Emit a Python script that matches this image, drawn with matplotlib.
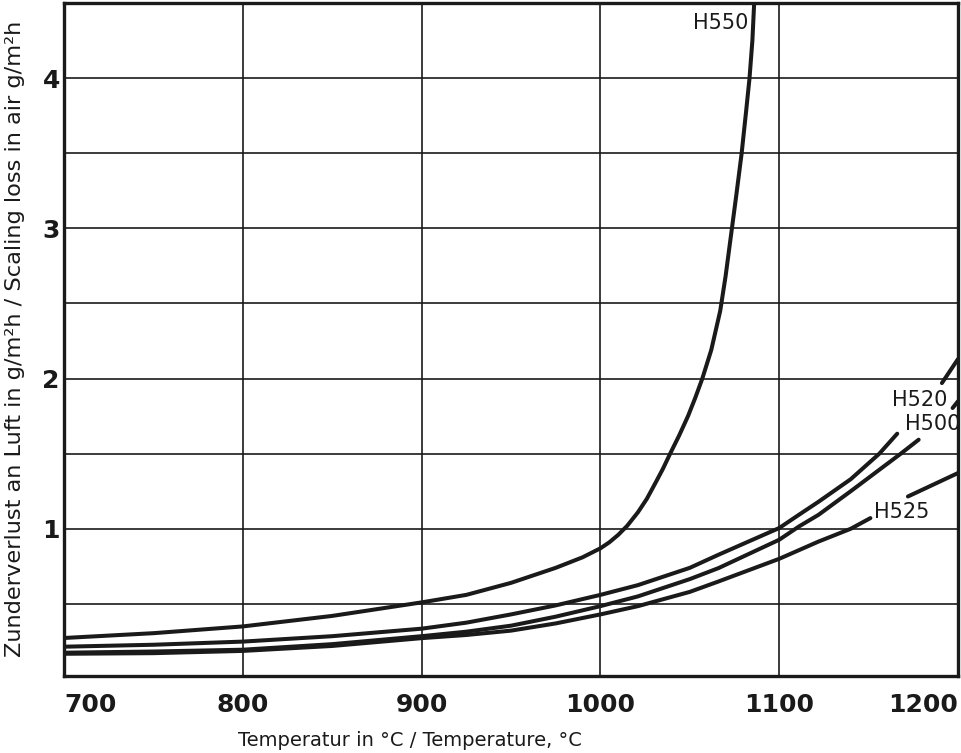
import numpy as np
import matplotlib
matplotlib.use("Agg")
import matplotlib.pyplot as plt

plt.rcParams["font.family"] = ["Liberation Sans Narrow", "DejaVu Sans"]

# scaling loss readings, temperature in degC -> g/m2h
h550_t = [700, 750, 800, 850, 900, 925, 950, 975, 990, 1000, 1005, 1010, 1015, 1021, 1026, 1031, 1035, 1039,
          1044, 1049, 1053, 1057, 1062, 1067, 1070, 1073, 1076, 1079, 1081.5, 1083.4, 1085, 1086]
h550_v = [0.273, 0.305, 0.35, 0.42, 0.51, 0.56, 0.64, 0.74, 0.81, 0.87, 0.91, 0.96, 1.02, 1.11, 1.2, 1.31, 1.4, 1.5,
          1.62, 1.75, 1.87, 2.0, 2.19, 2.45, 2.68, 2.95, 3.22, 3.5, 3.78, 4.0, 4.25, 4.5]

h520_t = [700, 750, 800, 850, 900, 925, 950, 975, 1000, 1021, 1050, 1066, 1100, 1111, 1122, 1140, 1156, 1166, 1180, 1191, 1200]
h520_v = [0.215, 0.228, 0.249, 0.285, 0.335, 0.375, 0.43, 0.49, 0.56, 0.625, 0.74, 0.827, 1.005, 1.093, 1.18, 1.33, 1.5, 1.633, 1.82, 1.97, 2.13]

h500_t = [700, 750, 800, 850, 900, 925, 950, 975, 1000, 1021, 1050, 1066, 1100, 1111, 1122, 1140, 1168, 1178, 1188, 1197, 1200]
h500_v = [0.175, 0.183, 0.195, 0.232, 0.285, 0.315, 0.355, 0.415, 0.485, 0.55, 0.665, 0.738, 0.927, 1.015, 1.093, 1.25, 1.5, 1.593, 1.70, 1.804, 1.849]

h525_t = [700, 750, 800, 850, 900, 925, 950, 975, 1000, 1021, 1050, 1066, 1100, 1122, 1140, 1151, 1160, 1172, 1200]
h525_v = [0.168, 0.172, 0.187, 0.22, 0.272, 0.293, 0.322, 0.37, 0.43, 0.485, 0.58, 0.649, 0.80, 0.915, 1.0, 1.071, 1.14, 1.215, 1.371]

x_ticks = [700, 800, 900, 1000, 1100, 1200]
y_ticks = [1, 2, 3, 4]

def masked(t, v, gap=None):
    t = np.array(t, float); v = np.array(v, float)
    if gap:
        v[(t > gap[0]) & (t < gap[1])] = np.nan
    return t, v

fig = plt.figure(figsize=(9.61, 7.53), dpi=100)
ax = fig.add_axes([64/961, 77/753, (958-64)/961, (676-3)/753])

K = "#1a1a1a"
lw = 2.9
ax.plot(*masked(h550_t, h550_v), color=K, lw=lw, solid_joinstyle="round")
ax.plot(*masked(h520_t, h520_v, (1167, 1190)), color=K, lw=lw, solid_capstyle="round", solid_joinstyle="round")
ax.plot(*masked(h500_t, h500_v, (1179, 1196)), color=K, lw=lw, solid_capstyle="round", solid_joinstyle="round")
ax.plot(*masked(h525_t, h525_v, (1152, 1171)), color=K, lw=lw, solid_capstyle="round", solid_joinstyle="round")

fs_lab = 15
ax.text(1083, 4.37, "H550", ha="right", va="center", fontsize=fs_lab, color=K)
ax.text(1194, 1.857, "H520", ha="right", va="center", fontsize=fs_lab, color=K)
ax.text(1201.5, 1.70, "H500", ha="right", va="center", fontsize=fs_lab, color=K)
ax.text(1153, 1.11, "H525", ha="left", va="center", fontsize=fs_lab, color=K)

ax.set_xlim(700, 1200)
ax.set_ylim(0.02, 4.5)
ax.set_xticks(x_ticks)
ax.set_yticks(y_ticks)
ax.set_yticks(np.arange(0.5, 4.5, 0.5), minor=True)
ax.set_xticklabels([str(t) for t in x_ticks], fontsize=18, fontweight="bold")
ax.set_yticklabels([str(t) for t in y_ticks], fontsize=18, fontweight="bold")
xl = ax.get_xticklabels()
xl[0].set_ha("left"); xl[-1].set_ha("right")
ax.tick_params(axis="both", which="both", length=0, colors=K)
ax.tick_params(axis="x", pad=12)
ax.tick_params(axis="y", pad=3)
ax.grid(True, which="both", color=K, lw=1.2, zorder=0)
for s in ax.spines.values():
    s.set_linewidth(2.4); s.set_color(K)

fig.text(410/961, 1-740/753, "Temperatur in °C / Temperature, °C", ha="center", va="center", fontsize=14, color=K)
fig.text(15/961, 1-339/753, "Zunderverlust an Luft in g/m²h / Scaling loss in air g/m²h", ha="center", va="center",
         rotation=90, fontsize=16.2, color=K)

fig.savefig("out.png", dpi=100)
